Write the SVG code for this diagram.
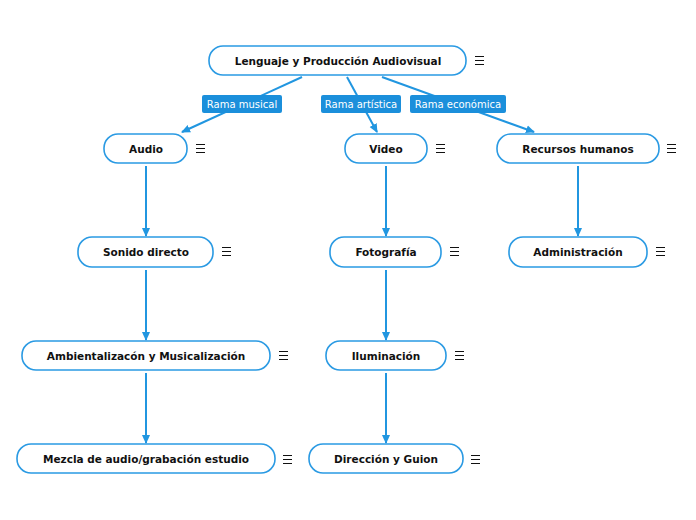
<svg xmlns="http://www.w3.org/2000/svg" width="696" height="520" viewBox="0 0 696 520">
<style>
.n{fill:#fff;stroke:#2a9ae3;stroke-width:1.6}
.t{font-family:"DejaVu Sans",Verdana,sans-serif;font-size:10.5px;font-weight:bold;fill:#111;text-anchor:middle}
.l{fill:#1b8fdb}
.lt{font-family:"DejaVu Sans",Verdana,sans-serif;font-size:10px;fill:#fff;text-anchor:middle}
.c{stroke:#2196e0;stroke-width:2;fill:none}
</style>
<defs>
<marker id="a" markerWidth="10" markerHeight="10" refX="8" refY="5" orient="auto" markerUnits="userSpaceOnUse">
<path d="M0,1 L9,5 L0,9 z" fill="#2196e0"/>
</marker>
<symbol id="m" overflow="visible"><path d="M0,-4.5H9M0,-0.5H9M0,3.5H9" stroke="#111" stroke-width="1" shape-rendering="crispEdges"/></symbol>
</defs>
<rect width="696" height="520" fill="#fff"/>
<g id="connectors">
<path class="c" d="M302,77 L182,132" marker-end="url(#a)"/>
<path class="c" d="M347,77 L377,132" marker-end="url(#a)"/>
<path class="c" d="M382,77 L534,132" marker-end="url(#a)"/>
<path class="c" d="M146,166 V236" marker-end="url(#a)"/>
<path class="c" d="M146,270 V340" marker-end="url(#a)"/>
<path class="c" d="M146,373 V443" marker-end="url(#a)"/>
<path class="c" d="M386,166 V236" marker-end="url(#a)"/>
<path class="c" d="M386,270 V340" marker-end="url(#a)"/>
<path class="c" d="M386,373 V443" marker-end="url(#a)"/>
<path class="c" d="M578,166 V236" marker-end="url(#a)"/>
<g id="lbl-musical"><rect class="l" x="202" y="95" width="80" height="18" rx="2"/><text class="lt" x="242" y="108">Rama musical</text></g>
<g id="lbl-artistica"><rect class="l" x="321" y="95" width="80" height="18" rx="2"/><text class="lt" x="361" y="108">Rama artística</text></g>
<g id="lbl-economica"><rect class="l" x="410" y="95" width="96" height="18" rx="2"/><text class="lt" x="458" y="108">Rama económica</text></g>
</g>
<g id="root"><rect class="n" x="209" y="46" width="257" height="29" rx="14"/><text class="t" x="338" y="65">Lenguaje y Producción Audiovisual</text><use href="#m" x="475" y="61"/></g>
<g id="audio"><rect class="n" x="104" y="134" width="83" height="29" rx="14"/><text class="t" x="146" y="153">Audio</text><use href="#m" x="196" y="149"/></g>
<g id="video"><rect class="n" x="345" y="134" width="82" height="29" rx="14"/><text class="t" x="386" y="153">Video</text><use href="#m" x="436" y="149"/></g>
<g id="recursos"><rect class="n" x="497" y="134" width="162" height="29" rx="14"/><text class="t" x="578" y="153">Recursos humanos</text><use href="#m" x="667" y="149"/></g>
<g id="sonido"><rect class="n" x="78" y="237" width="135" height="30" rx="14"/><text class="t" x="146" y="256">Sonido directo</text><use href="#m" x="222" y="252"/></g>
<g id="fotografia"><rect class="n" x="330" y="237" width="111" height="30" rx="14"/><text class="t" x="386" y="256">Fotografía</text><use href="#m" x="450" y="252"/></g>
<g id="administracion"><rect class="n" x="509" y="237" width="138" height="30" rx="14"/><text class="t" x="578" y="256">Administración</text><use href="#m" x="656" y="252"/></g>
<g id="ambientalizacion"><rect class="n" x="22" y="341" width="248" height="29" rx="14"/><text class="t" x="146" y="360">Ambientalizacón y Musicalización</text><use href="#m" x="279" y="356"/></g>
<g id="iluminacion"><rect class="n" x="326" y="341" width="120" height="29" rx="14"/><text class="t" x="386" y="360">Iluminación</text><use href="#m" x="455" y="356"/></g>
<g id="mezcla"><rect class="n" x="17" y="444" width="258" height="29" rx="14"/><text class="t" x="146" y="463">Mezcla de audio/grabación estudio</text><use href="#m" x="283" y="460"/></g>
<g id="direccion"><rect class="n" x="309" y="444" width="154" height="29" rx="14"/><text class="t" x="386" y="463">Dirección y Guion</text><use href="#m" x="471" y="460"/></g>
</svg>
